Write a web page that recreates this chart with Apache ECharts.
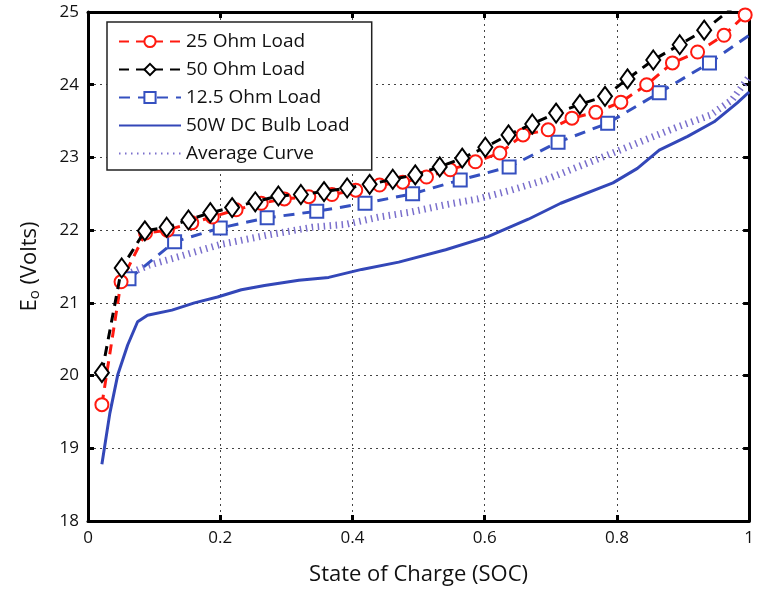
<!DOCTYPE html>
<html><head><meta charset="utf-8">
<script src="https://cdn.jsdelivr.net/npm/echarts@6/dist/echarts.min.js"></script>
<style>html,body{margin:0;padding:0;background:#fff}#c{width:757px;height:592px}</style>
</head><body><div id="c"></div>
<script>
// ---- data ----
const xTicks = [0, 0.2, 0.4, 0.6, 0.8, 1];
const yTicks = [18, 19, 20, 21, 22, 23, 24, 25];
const seriesNames = ['25 Ohm Load', '50 Ohm Load', '12.5 Ohm Load', '50W DC Bulb Load', 'Average Curve'];

const ohm25X = [0.021,0.050,0.087,0.120,0.157,0.188,0.224,0.262,0.297,0.334,0.369,0.405,0.441,0.476,0.512,0.548,0.586,0.623,0.658,0.696,0.732,0.768,0.806,0.845,0.884,0.922,0.962,0.994];
const ohm25Y = [19.60,21.29,21.96,22.00,22.10,22.18,22.28,22.37,22.43,22.46,22.49,22.55,22.62,22.66,22.73,22.83,22.94,23.06,23.31,23.38,23.54,23.62,23.76,24.00,24.30,24.45,24.68,24.96];

const ohm50X = [0.021,0.051,0.086,0.119,0.152,0.185,0.218,0.253,0.288,0.322,0.357,0.392,0.426,0.461,0.495,0.532,0.566,0.601,0.636,0.672,0.708,0.744,0.782,0.816,0.855,0.895,0.932,0.974];
const ohm50Y = [20.04,21.48,21.99,22.04,22.14,22.24,22.31,22.39,22.47,22.49,22.53,22.58,22.63,22.70,22.76,22.87,22.99,23.14,23.31,23.46,23.61,23.73,23.84,24.08,24.34,24.55,24.75,25.05];

const ohm125X = [0.062,0.131,0.200,0.271,0.346,0.419,0.491,0.563,0.637,0.711,0.786,0.864,0.940,1.0];
const ohm125Y = [21.33,21.84,22.03,22.17,22.26,22.37,22.50,22.69,22.87,23.21,23.47,23.89,24.30,24.68];

const bulbX = [0.021,0.033,0.045,0.060,0.075,0.090,0.127,0.161,0.196,0.232,0.267,0.319,0.364,0.414,0.470,0.541,0.605,0.666,0.715,0.794,0.831,0.864,0.907,0.947,0.982,1.0];
const bulbY = [18.78,19.48,20.01,20.42,20.74,20.83,20.90,21.00,21.08,21.18,21.24,21.31,21.35,21.46,21.56,21.73,21.91,22.15,22.37,22.65,22.85,23.10,23.29,23.49,23.75,23.90];

const avgX = [0.066,0.093,0.139,0.199,0.270,0.339,0.390,0.440,0.489,0.541,0.590,0.640,0.691,0.741,0.791,0.842,0.892,0.941,0.974,1.0];
const avgY = [21.42,21.52,21.64,21.80,21.93,22.04,22.08,22.18,22.25,22.35,22.43,22.55,22.69,22.87,23.05,23.24,23.42,23.58,23.79,24.11];

// ---- build ----
const zip = (xs, ys) => xs.map((x, i) => [x, ys[i]]);
const font = '"Open Sans", "Liberation Sans", sans-serif';
const chart = echarts.init(document.getElementById('c'), null, {renderer: 'canvas'});

const d125 = zip(ohm125X, ohm125Y).map((p, i, a) => i === a.length - 1 ? {value: p, symbol: 'none'} : p);

const axisCommon = {
  type: 'value',
  axisLine: {show: true, onZero: false, lineStyle: {color: '#000', width: 3}},
  axisTick: {show: true, inside: true, length: 6, lineStyle: {color: '#000', width: 3}},
};

const legendData = seriesNames.map((n, i) => i >= 3 ? {name: n, itemStyle: {opacity: 0}} : {name: n});

chart.setOption({
  animation: false,
  backgroundColor: '#fff',
  grid: {left: 88, right: 5, top: 12, bottom: 71},
  legend: {
    orient: 'vertical', left: 107, top: 22,
    padding: [10, 22, 7, 11],
    itemWidth: 62, itemHeight: 14, itemGap: 9,
    backgroundColor: '#fff', borderColor: '#222', borderWidth: 1.5,
    textStyle: {fontFamily: font, fontSize: 19, color: '#111'},
    data: legendData
  },
  xAxis: [
    Object.assign({}, axisCommon, {
      min: xTicks[0], max: xTicks[xTicks.length - 1], interval: 0.2, position: 'bottom',
      name: 'State of Charge (SOC)', nameLocation: 'middle', nameGap: 43,
      nameTextStyle: {fontFamily: font, fontSize: 22, color: '#111'},
      axisLabel: {fontFamily: font, fontSize: 17, color: '#111', margin: 9},
      splitLine: {show: true, lineStyle: {color: '#444', width: 1, type: [2, 4]}}
    }),
    Object.assign({}, axisCommon, {
      min: xTicks[0], max: xTicks[xTicks.length - 1], interval: 0.2, position: 'top',
      axisLabel: {show: false}, splitLine: {show: false}
    })
  ],
  yAxis: [
    Object.assign({}, axisCommon, {
      min: yTicks[0], max: yTicks[yTicks.length - 1], interval: 1, position: 'left',
      name: 'E{sub|o} (Volts)', nameLocation: 'middle', nameGap: 46, nameRotate: 90,
      nameTextStyle: {fontFamily: font, fontSize: 22, color: '#111',
        rich: {sub: {fontFamily: font, fontSize: 15, color: '#111', verticalAlign: 'bottom', padding: [10, 0, 0, 0]}}},
      axisLabel: {fontFamily: font, fontSize: 17, color: '#111', margin: 9},
      splitLine: {show: true, lineStyle: {color: '#444', width: 1, type: [2, 4]}}
    }),
    Object.assign({}, axisCommon, {
      min: yTicks[0], max: yTicks[yTicks.length - 1], interval: 1, position: 'right',
      axisLabel: {show: false}, splitLine: {show: false}
    })
  ],
  series: [
    {
      name: seriesNames[0], type: 'line', data: zip(ohm25X, ohm25Y), clip: true,
      symbol: 'emptyCircle', symbolSize: 13,
      lineStyle: {color: '#ff1a10', width: 3, type: [10, 7]},
      itemStyle: {color: '#ff1a10', borderColor: '#ff1a10', borderWidth: 3},
      z: 3
    },
    {
      name: seriesNames[1], type: 'line', data: zip(ohm50X, ohm50Y), clip: true,
      symbol: 'emptyDiamond', symbolSize: [14, 19],
      lineStyle: {color: '#000', width: 3, type: [10, 7]},
      itemStyle: {color: '#000', borderColor: '#000', borderWidth: 3},
      z: 4
    },
    {
      name: seriesNames[2], type: 'line', data: d125, clip: true,
      symbol: 'emptyRect', symbolSize: 13,
      lineStyle: {color: '#3550c0', width: 3, type: [11, 8]},
      itemStyle: {color: '#3550c0', borderColor: '#3550c0', borderWidth: 3.5},
      z: 2
    },
    {
      name: seriesNames[3], type: 'line', data: zip(bulbX, bulbY), clip: true,
      symbol: 'none', showSymbol: false,
      lineStyle: {color: '#3347b8', width: 3},
      itemStyle: {color: '#3347b8'},
      z: 2
    },
    {
      name: seriesNames[4], type: 'line', data: zip(avgX, avgY), clip: true,
      symbol: 'none', showSymbol: false,
      lineStyle: {color: '#7a6fcc', width: 7, type: [1.5, 4.5]},
      itemStyle: {color: '#7a6fcc'},
      z: 1
    }
  ]
});
</script></body></html>
